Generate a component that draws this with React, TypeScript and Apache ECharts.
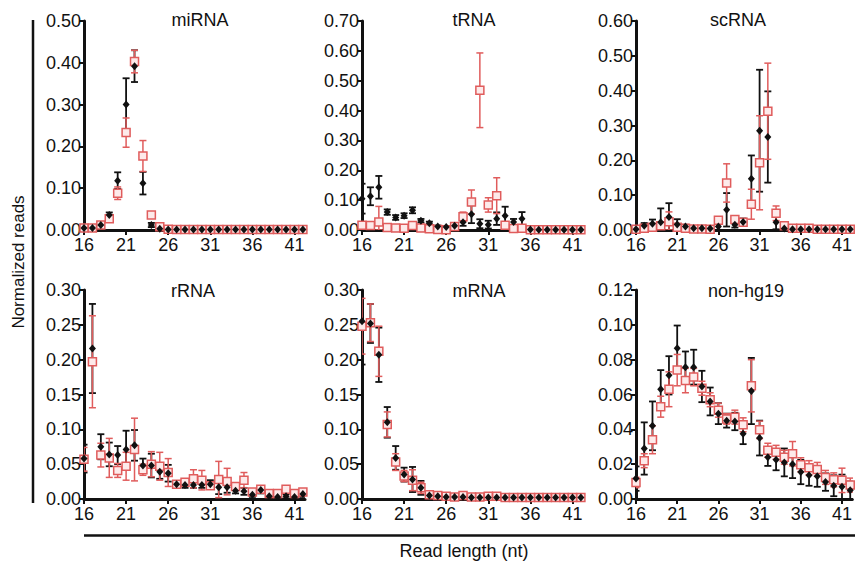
import React, { useEffect, useRef } from "react";
import * as echarts from "echarts";

const readLengths = [16,17,18,19,20,21,22,23,24,25,26,27,28,29,30,31,32,33,34,35,36,37,38,39,40,41,42];
const xTicks = [16, 21, 26, 31, 36, 41];

const panelTitles = ["miRNA", "tRNA", "scRNA", "rRNA", "mRNA", "non-hg19"];
const yMax = [0.5, 0.7, 0.6, 0.3, 0.3, 0.12];
const yStep = [0.1, 0.1, 0.1, 0.05, 0.05, 0.02];

// miRNA
const miBlack = [.005,.005,.012,.036,.118,.300,.392,.112,.012,.003,.001,.001,.001,.001,.001,.001,.001,.001,.001,.001,.001,.001,.001,.001,.001,.001,.001];
const miBlackErr = [.003,.003,.004,.006,.020,.063,.038,.027,.005,.002,.001,.001,.001,.001,.001,.001,.001,.001,.001,.001,.001,.001,.001,.001,.001,.001,.001];
const miRed = [.005,.005,.012,.027,.088,.233,.403,.177,.036,.008,.002,.001,.001,.001,.001,.001,.001,.001,.001,.001,.001,.001,.001,.001,.001,.001,.001];
const miRedErr = [.003,.003,.004,.004,.015,.035,.027,.037,.006,.003,.001,.001,.001,.001,.001,.001,.001,.001,.001,.001,.001,.001,.001,.001,.001,.001,.001];

// tRNA
const tBlack = [.105,.113,.143,.060,.042,.048,.066,.031,.023,.012,.010,.014,.026,.053,.021,.018,.038,.048,.027,.038,.002,.001,.001,.001,.001,.001,.001];
const tBlackErr = [.050,.030,.038,.009,.008,.008,.010,.006,.005,.003,.003,.004,.012,.030,.015,.013,.021,.030,.010,.022,.002,.001,.001,.001,.001,.001,.001];
const tRed = [.016,.015,.027,.008,.007,.006,.015,.007,.004,.002,.001,.012,.044,.094,.468,.084,.115,.016,.005,.006,.001,.001,.001,.001,.001,.001,.001];
const tRedErr = [.005,.004,.052,.003,.003,.003,.005,.003,.002,.001,.001,.004,.016,.040,.125,.024,.060,.004,.002,.003,.001,.001,.001,.001,.001,.001,.001];

// scRNA
const scBlack = [.002,.012,.018,.022,.037,.016,.010,.005,.005,.004,.010,.058,.015,.023,.147,.285,.267,.022,.004,.002,.002,.002,.002,.002,.002,.002,.002];
const scBlackErr = [.002,.008,.012,.040,.040,.015,.005,.003,.003,.002,.010,.048,.008,.010,.067,.175,.131,.020,.003,.001,.001,.001,.001,.001,.001,.001,.001];
const scRed = [.002,.005,.008,.012,.024,.008,.005,.003,.003,.002,.028,.135,.030,.022,.074,.193,.341,.048,.012,.005,.005,.005,.002,.002,.002,.002,.002];
const scRedErr = [.002,.003,.004,.006,.028,.004,.003,.002,.002,.001,.008,.055,.008,.010,.043,.135,.138,.021,.004,.003,.003,.003,.001,.001,.001,.001,.001];

// rRNA
const rBlack = [.058,.216,.075,.064,.063,.071,.077,.048,.048,.039,.037,.021,.020,.020,.020,.021,.017,.017,.012,.011,.006,.013,.004,.003,.004,.003,.007];
const rBlackErr = [.020,.064,.018,.017,.013,.027,.022,.010,.017,.010,.012,.004,.004,.004,.004,.006,.010,.008,.004,.005,.003,.005,.003,.003,.003,.003,.004];
const rRed = [.057,.197,.063,.059,.041,.047,.071,.042,.050,.047,.038,.021,.024,.029,.027,.019,.028,.025,.018,.027,.010,.014,.008,.008,.014,.008,.010];
const rRedErr = [.017,.066,.017,.028,.010,.020,.045,.008,.018,.020,.020,.004,.005,.013,.014,.004,.026,.019,.005,.011,.003,.004,.003,.003,.004,.003,.003];

// mRNA
const mBlack = [.255,.252,.207,.110,.059,.035,.028,.016,.005,.004,.003,.003,.003,.002,.002,.002,.002,.002,.002,.002,.002,.002,.002,.002,.002,.002,.002];
const mBlackErr = [.062,.028,.039,.022,.017,.010,.018,.010,.003,.002,.002,.002,.002,.001,.001,.001,.001,.001,.001,.001,.001,.001,.001,.001,.001,.001,.001];
const mRed = [.248,.253,.212,.107,.053,.033,.027,.016,.006,.005,.004,.003,.005,.003,.003,.004,.004,.002,.002,.002,.002,.002,.002,.002,.002,.002,.002];
const mRedErr = [.040,.027,.036,.018,.012,.008,.015,.008,.003,.002,.002,.002,.002,.002,.002,.002,.002,.001,.001,.001,.001,.001,.001,.001,.001,.001,.001];

// non-hg19
const nBlack = [.0117,.029,.042,.063,.071,.0866,.0757,.0757,.0646,.056,.049,.045,.0445,.0375,.062,.035,.024,.0225,.021,.020,.0155,.0136,.013,.0097,.0076,.007,.005];
const nBlackErr = [.007,.015,.014,.011,.011,.013,.009,.010,.009,.008,.006,.004,.005,.006,.019,.010,.005,.006,.008,.008,.007,.006,.006,.005,.006,.007,.005];
const nRed = [.0095,.022,.034,.053,.063,.074,.068,.070,.0636,.057,.051,.046,.047,.0426,.065,.0397,.028,.0268,.024,.026,.0197,.018,.017,.0124,.011,.0107,.008];
const nRedErr = [.003,.004,.008,.006,.010,.009,.007,.005,.004,.004,.004,.003,.004,.004,.015,.005,.004,.004,.004,.007,.004,.004,.004,.004,.004,.007,.004];

const blackMeans = [miBlack, tBlack, scBlack, rBlack, mBlack, nBlack];
const blackErrs = [miBlackErr, tBlackErr, scBlackErr, rBlackErr, mBlackErr, nBlackErr];
const redMeans = [miRed, tRed, scRed, rRed, mRed, nRed];
const redErrs = [miRedErr, tRedErr, scRedErr, rRedErr, mRedErr, nRedErr];

const FONT = "'Liberation Sans', Arial, Helvetica, sans-serif";
const BLACK = "#111111";
const RED = "#e05c5c";

const gridLefts = [84, 362, 636];
const gridTops = [21, 290];
const GRID_W = 221;
const GRID_H = 209;
const titleX = [200, 474, 738, 193, 479, 746];

function errorRender(color: string, lw: number) {
  return (params: any, api: any) => {
    const x = api.value(0);
    const lo = api.value(1);
    const hi = api.value(2);
    const p1 = api.coord([x, hi]);
    const p2 = api.coord([x, lo]);
    const w = 3.5;
    const style = { stroke: color, lineWidth: lw };
    return {
      type: "group",
      children: [
        { type: "line", shape: { x1: p1[0], y1: p1[1], x2: p2[0], y2: p2[1] }, style },
        { type: "line", shape: { x1: p1[0] - w, y1: p1[1], x2: p1[0] + w, y2: p1[1] }, style },
        { type: "line", shape: { x1: p2[0] - w, y1: p2[1], x2: p2[0] + w, y2: p2[1] }, style },
      ],
    };
  };
}

export default function App() {
  const ref = useRef<HTMLDivElement>(null);
  useEffect(() => {
    if (!ref.current) return;
    const chart = echarts.init(ref.current, undefined, { renderer: "svg" });
    const grids: any[] = [];
    const xAxes: any[] = [];
    const yAxes: any[] = [];
    const series: any[] = [];
    const graphics: any[] = [];
    for (let i = 0; i < 6; i++) {
      const row = Math.floor(i / 3);
      const col = i % 3;
      grids.push({ left: gridLefts[col], top: gridTops[row], width: GRID_W, height: GRID_H, containLabel: false });
      xAxes.push({
        gridIndex: i,
        type: "value",
        min: 16,
        max: 42.25,
        axisLine: { show: true, onZero: false, lineStyle: { color: BLACK, width: 3 } },
        axisTick: { show: true, length: 5, customValues: xTicks, lineStyle: { color: BLACK, width: 2 } },
        axisLabel: { customValues: xTicks, fontSize: 18, fontFamily: FONT, color: BLACK, margin: 6 },
        splitLine: { show: false },
      });
      yAxes.push({
        gridIndex: i,
        type: "value",
        min: 0,
        max: yMax[i],
        interval: yStep[i],
        axisLine: { show: true, lineStyle: { color: BLACK, width: 3 } },
        axisTick: { show: true, length: 5, lineStyle: { color: BLACK, width: 2 } },
        axisLabel: {
          fontSize: 18,
          fontFamily: FONT,
          color: BLACK,
          margin: 3,
          formatter: (v: number) => v.toFixed(2),
        },
        splitLine: { show: false },
      });
      const bData = readLengths.map((x, k) => [x, Math.max(0, blackMeans[i][k] - blackErrs[i][k]), blackMeans[i][k] + blackErrs[i][k]]);
      const rData = readLengths.map((x, k) => [x, Math.max(0, redMeans[i][k] - redErrs[i][k]), redMeans[i][k] + redErrs[i][k]]);
      series.push({
        type: "custom",
        xAxisIndex: i,
        yAxisIndex: i,
        renderItem: errorRender(BLACK, 1.8),
        data: bData,
        encode: { x: 0, y: [1, 2] },
        clip: true,
        z: 2,
      });
      series.push({
        type: "custom",
        xAxisIndex: i,
        yAxisIndex: i,
        renderItem: errorRender(RED, 1.5),
        data: rData,
        encode: { x: 0, y: [1, 2] },
        clip: true,
        z: 3,
      });
      series.push({
        type: "scatter",
        xAxisIndex: i,
        yAxisIndex: i,
        symbol: "rect",
        symbolSize: 8,
        itemStyle: { color: "#fdeaea", borderColor: RED, borderWidth: 1.5, opacity: 1 },
        data: readLengths.map((x, k) => [x, redMeans[i][k]]),
        z: 4,
      });
      series.push({
        type: "scatter",
        xAxisIndex: i,
        yAxisIndex: i,
        symbol: "diamond",
        symbolSize: [7, 8],
        itemStyle: { color: BLACK, opacity: 1 },
        data: readLengths.map((x, k) => [x, blackMeans[i][k]]),
        z: 5,
      });
      graphics.push({
        type: "text",
        x: titleX[i],
        y: row === 0 ? 20 : 291,
        style: {
          text: panelTitles[i],
          fontSize: 18,
          fontFamily: FONT,
          fill: BLACK,
          textAlign: "center",
          textVerticalAlign: "middle",
        },
      });
    }
    graphics.push({ type: "line", shape: { x1: 33, y1: 20, x2: 33, y2: 503 }, style: { stroke: BLACK, lineWidth: 2.5 } });
    graphics.push({ type: "line", shape: { x1: 84, y1: 535.5, x2: 855, y2: 535.5 }, style: { stroke: BLACK, lineWidth: 2.5 } });
    graphics.push({
      type: "text",
      x: 18,
      y: 262,
      rotation: Math.PI / 2,
      style: { text: "Normalized reads", fontSize: 17, fontFamily: FONT, fill: BLACK, textAlign: "center", textVerticalAlign: "middle" },
    });
    graphics.push({
      type: "text",
      x: 464,
      y: 551,
      style: { text: "Read length (nt)", fontSize: 18, fontFamily: FONT, fill: BLACK, textAlign: "center", textVerticalAlign: "middle" },
    });
    chart.setOption({
      animation: false,
      backgroundColor: "#ffffff",
      grid: grids,
      xAxis: xAxes,
      yAxis: yAxes,
      series,
      graphic: graphics,
    });
    return () => chart.dispose();
  }, []);
  return (
    <div
      ref={ref}
      style={{ position: "absolute", left: 0, top: 0, width: 855, height: 565 }}
    />
  );
}
